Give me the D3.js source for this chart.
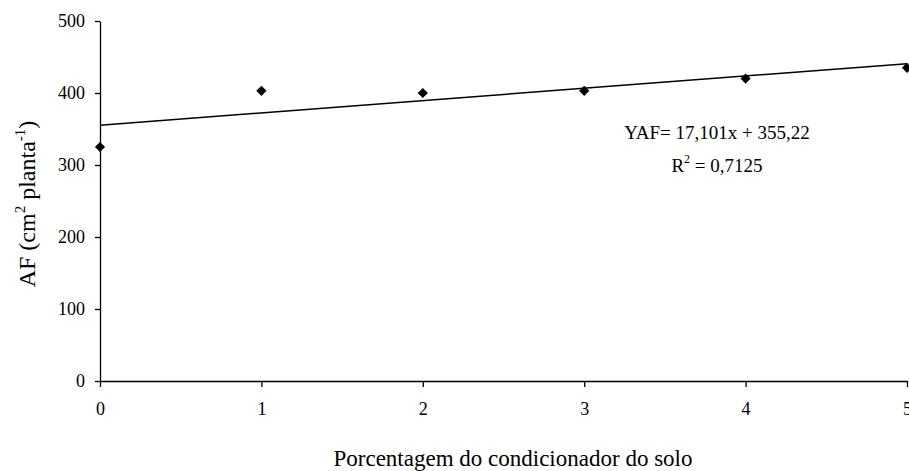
<!DOCTYPE html>
<html>
  <body style="margin:0;background:#fff">
    <style>
      svg text { font-family: "Liberation Serif", "Times New Roman", Times, "DejaVu Serif", serif; fill: #000; }
      .axis path, .axis line { stroke: #000; stroke-width: 1.3; }
      .axis text { font-size: 18px; }
    </style>
    <script src="https://cdn.jsdelivr.net/npm/d3@7"></script>
    <script type="text/javascript">
      const width = 909;
      const height = 471;

      const doses = [0, 1, 2, 3, 4, 5];
      const areaFoliar = [325, 403, 400, 403, 420, 435];
      const yTicks = [0, 100, 200, 300, 400, 500];
      const slope = 17.101;
      const intercept = 355.22;

      const svg = d3.select('body')
        .append('svg')
        .attr('width', width)
        .attr('height', height);

      const x = d3.scaleLinear()
        .domain([0, 5])
        .range([100, 907]);

      const y = d3.scaleLinear()
        .domain([0, 500])
        .range([381, 21]);

      svg.append('g')
        .attr('class', 'axis')
        .attr('transform', 'translate(0,381)')
        .call(d3.axisBottom(x).tickValues(doses).tickFormat(d3.format('d')).tickSize(6).tickPadding(15).tickSizeOuter(0))

      svg.append('g')
        .attr('class', 'axis')
        .attr('transform', 'translate(100,0)')
        .call(d3.axisLeft(y).tickValues(yTicks).tickFormat(d3.format('d')).tickSize(5).tickPadding(10).tickSizeOuter(0))

      // linha de tendencia
      svg.append('line')
        .attr('x1', x(0))
        .attr('y1', y(intercept))
        .attr('x2', x(5))
        .attr('y2', y(slope * 5 + intercept))
        .attr('stroke', '#000')
        .attr('stroke-width', 1.5)

      const diamond = d3.symbol().type(d3.symbolSquare).size(52);
      svg.selectAll('.pt')
        .data(doses)
        .enter()
        .append('path')
        .attr('class', 'pt')
        .attr('d', diamond)
        .attr('transform', (d, i) => `translate(${x(d)},${y(areaFoliar[i])}) rotate(45)`)
        .attr('fill', '#000')

      const eq = svg.append('g').attr('font-size', 19).attr('text-anchor', 'middle')
      eq.append('text')
        .attr('x', 717)
        .attr('y', 139)
        .text('YAF= 17,101x + 355,22')
      const r2 = eq.append('text')
        .attr('x', 717)
        .attr('y', 172)
      r2.append('tspan').text('R')
      r2.append('tspan').attr('font-size', 12).attr('dy', -9).text('2')
      r2.append('tspan').attr('dy', 9).text(' = 0,7125')

      const yl = svg.append('text')
        .attr('transform', 'translate(35,204) rotate(-90)')
        .attr('text-anchor', 'middle')
        .attr('font-size', 24)
      yl.append('tspan').text('AF (cm')
      yl.append('tspan').attr('font-size', 15).attr('dy', -10).text('2')
      yl.append('tspan').attr('dy', 10).text(' planta')
      yl.append('tspan').attr('font-size', 15).attr('dy', -10).text('-1')
      yl.append('tspan').attr('dy', 10).text(')')

      svg.append('text')
        .attr('x', 513)
        .attr('y', 466)
        .attr('text-anchor', 'middle')
        .attr('font-size', 23)
        .text('Porcentagem do condicionador do solo')
    </script>
  </body>
</html>
